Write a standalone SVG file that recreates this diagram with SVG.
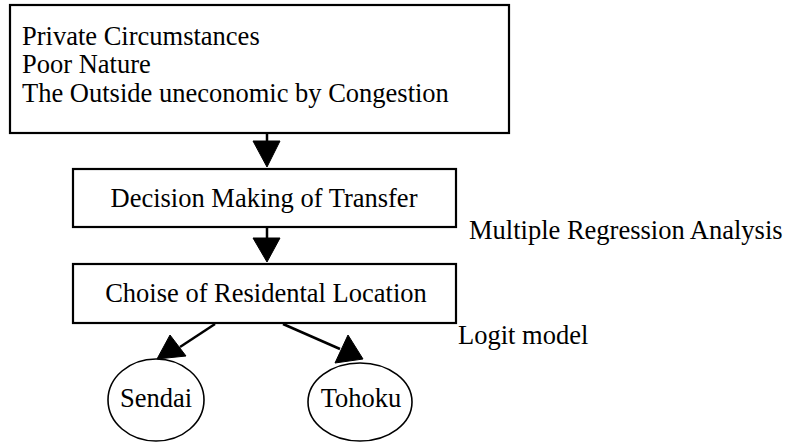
<svg xmlns="http://www.w3.org/2000/svg" width="790" height="443" viewBox="0 0 790 443">
<style>
.box{fill:#fff;stroke:#000;stroke-width:2.2}
.ell{fill:#fff;stroke:#000;stroke-width:1.6}
.t{font-family:"Liberation Serif","Times New Roman",serif;font-size:26.5px;fill:#000}
.c{text-anchor:middle}
.ln{stroke:#000;stroke-width:2.5;fill:none}
.hd{fill:#000;stroke:#000;stroke-width:1}
</style>
<rect width="790" height="443" fill="#fff"/>
<g id="connectors">
<line class="ln" x1="267" y1="133" x2="267" y2="145"/>
<polygon class="hd" points="253,141 280,141 267,167"/>
<line class="ln" x1="267" y1="227" x2="267" y2="242"/>
<polygon class="hd" points="253,238 280,238 267,262"/>
<line class="ln" x1="215" y1="324" x2="180" y2="347"/>
<polygon class="hd" points="170,335 157,359 186,356"/>
<line class="ln" x1="283" y1="324" x2="340" y2="349"/>
<polygon class="hd" points="348,335 335,363 363,359"/>
</g>
<g id="factors">
<rect class="box" x="10" y="5" width="499" height="128"/>
<text class="t" x="22" y="45">Private Circumstances</text>
<text class="t" x="22" y="73">Poor Nature</text>
<text class="t" x="22" y="102">The Outside uneconomic by Congestion</text>
</g>
<g id="decision">
<rect class="box" x="73" y="169" width="383" height="58"/>
<text class="t c" x="264" y="207">Decision Making of Transfer</text>
</g>
<g id="choise">
<rect class="box" x="73" y="264" width="383" height="59"/>
<text class="t c" x="266" y="302">Choise of Residental Location</text>
</g>
<g id="label-mra">
<text class="t" x="469" y="239">Multiple Regression Analysis</text>
</g>
<g id="label-logit">
<text class="t" x="458" y="344">Logit model</text>
</g>
<g id="sendai">
<ellipse class="ell" cx="156" cy="400" rx="48" ry="41"/>
<text class="t c" x="156" y="407">Sendai</text>
</g>
<g id="tohoku">
<ellipse class="ell" cx="360" cy="402" rx="52" ry="39"/>
<text class="t c" x="361" y="407">Tohoku</text>
</g>
</svg>
